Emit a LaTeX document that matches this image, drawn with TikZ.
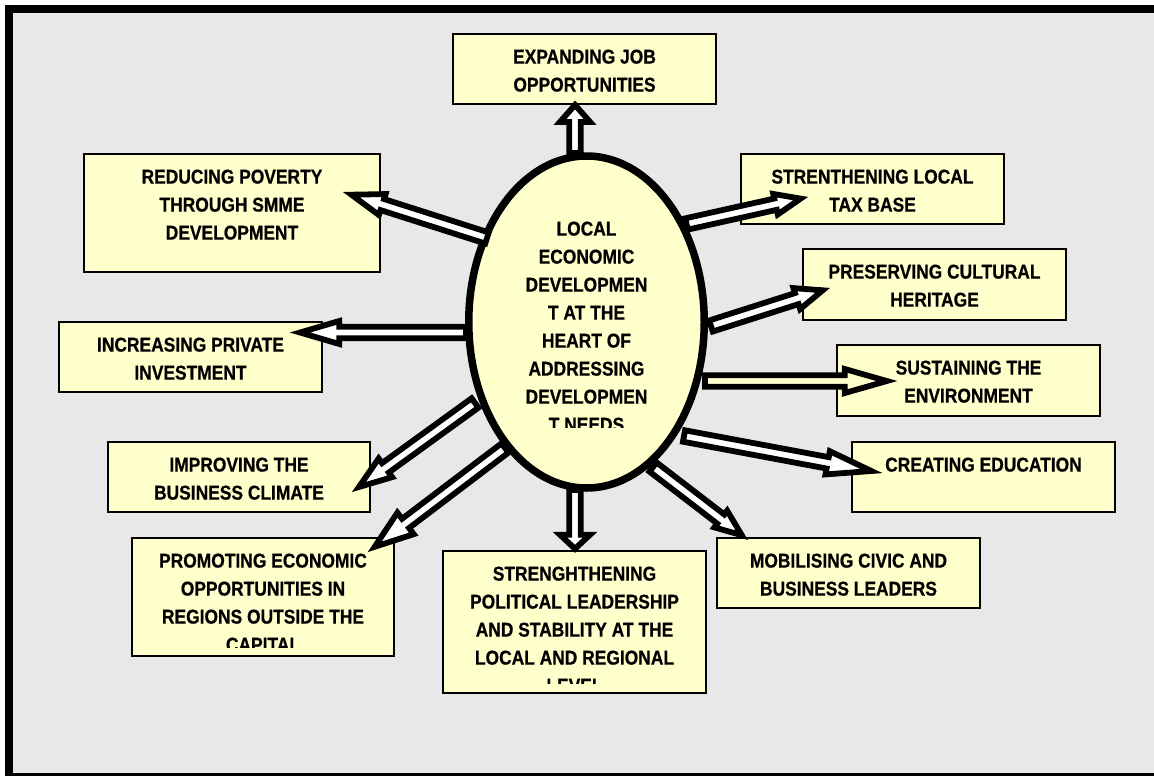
\documentclass[tikz,border=0pt]{standalone}
\usepackage{fontspec}
\setmainfont{Liberation Sans}[FakeStretch=0.87, FakeBold=0.6]
\usetikzlibrary{calc,shapes.geometric}
\definecolor{bggray}{HTML}{E8E8E8}
\definecolor{boxyellow}{HTML}{FFFFCC}
\tikzset{
  box/.style={draw=black, line width=2.2pt, fill=boxyellow, anchor=north west, outer sep=0pt, inner sep=0pt,
              minimum width=262.8pt, minimum height=69.8pt},
  lbl/.style={font=\fontsize{20pt}{28pt}\selectfont\bfseries, align=center, inner sep=0pt, anchor=north},
  barrow/.style={draw=black, line width=5.8pt, line join=miter, miter limit=10, fill=white},
}
% #1 options, #2 tail, #3 tip, #4 shaft half width, #5 head half width, #6 head length
\newcommand\blockarrow[6][]{%
  \coordinate (hb) at ($(#3)!#6!(#2)$);
  \draw[barrow,#1] ($(#2)!#4!90:(#3)$) -- ($(hb)!#4!90:(#3)$) -- ($(hb)!#5!90:(#3)$) -- (#3)
     -- ($(hb)!#5!-90:(#3)$) -- ($(hb)!#4!-90:(#3)$) -- ($(#2)!#4!-90:(#3)$) -- cycle;
}
\begin{document}
\begin{tikzpicture}[x=1pt,y=-1pt]
\useasboundingbox (0,0) rectangle (1154,776);
% background and frame
\fill[white] (0,0) rectangle (1154,776);
\fill[bggray] (9,9) rectangle (1170,790);
\draw[line width=8pt] (1170,9) -- (9,9) -- (9,777.3) -- (1170,777.3);

% central ellipse
\node[ellipse, draw=black, line width=7.5pt, fill=boxyellow, minimum width=235.5pt, minimum height=332pt, inner sep=0pt] (E) at (586.5,322) {};
\begin{scope}
  \clip (450,200) rectangle (720,427);
  \node[lbl] (Et) at (586.5,221.4) {LOCAL\\ECONOMIC\\DEVELOPMEN\\T AT THE\\HEART OF\\ADDRESSING\\DEVELOPMEN\\T NEEDS};
\end{scope}

% boxes
\node[box] (b1) at (453.1,34.1) {};
\node[box, minimum width=295.8pt, minimum height=117.8pt] (b2) at (84.1,154.1) {};
\node[box] (b3) at (741.1,154.1) {};
\node[box, minimum height=70.8pt] (b4) at (803.1,249.1) {};
\node[box] (b5) at (59.1,322.1) {};
\node[box, minimum height=70.8pt] (b6) at (837.1,345.1) {};
\node[box, minimum width=261.8pt] (b7) at (108.1,442.1) {};
\node[box] (b8) at (852.1,442.1) {};
\node[box, minimum width=261.8pt, minimum height=117.8pt] (b9) at (132.1,538.1) {};
\node[box, minimum height=141.8pt] (b10) at (443.1,551.1) {};
\node[box] (b11) at (717.1,538.1) {};

% box texts
\node[lbl] (t1) at (584.5,49.4) {EXPANDING JOB\\OPPORTUNITIES};
\node[lbl] (t2) at (232,169.4) {REDUCING POVERTY\\THROUGH SMME\\DEVELOPMENT};
\node[lbl] (t3) at (872.5,169.4) {STRENTHENING LOCAL\\TAX BASE};
\node[lbl] (t4) at (934.5,264.4) {PRESERVING CULTURAL\\HERITAGE};
\node[lbl] (t5) at (190.5,337.4) {INCREASING PRIVATE\\INVESTMENT};
\node[lbl] (t6) at (968.5,360.4) {SUSTAINING THE\\ENVIRONMENT};
\node[lbl] (t7) at (239,457.4) {IMPROVING THE\\BUSINESS CLIMATE};
\node[lbl] (t8) at (983.5,457.4) {CREATING EDUCATION};
\begin{scope}
  \clip (132,538) rectangle (394,647);
  \node[lbl] (t9) at (263,553.4) {PROMOTING ECONOMIC\\OPPORTUNITIES IN\\REGIONS OUTSIDE THE\\CAPITAL};
\end{scope}
\begin{scope}
  \clip (443,551) rectangle (706,683);
  \node[lbl] (t10) at (574.5,566.4) {STRENGHTHENING\\POLITICAL LEADERSHIP\\AND STABILITY AT THE\\LOCAL AND REGIONAL\\LEVEL};
\end{scope}
\node[lbl] (t11) at (848.5,553.4) {MOBILISING CIVIC AND\\BUSINESS LEADERS};

% arrow end points
\coordinate (a1s) at (575,153);   \coordinate (a1e) at (575,104.9);
\coordinate (a2s) at (487,238);   \coordinate (a2e) at (351.4,194.7);
\coordinate (a3s) at (466,332.5); \coordinate (a3e) at (300,332.5);
\coordinate (a4s) at (475,403);   \coordinate (a4e) at (358.9,487);
\coordinate (a5s) at (505,448);   \coordinate (a5e) at (374.7,546.8);
\coordinate (a6s) at (575,490);   \coordinate (a6e) at (575,548.8);
\coordinate (a7s) at (653,467);   \coordinate (a7e) at (741.8,535.2);
\coordinate (a8s) at (684,436);   \coordinate (a8e) at (871.4,471);
\coordinate (a9s) at (705,381);   \coordinate (a9e) at (886.8,381);
\coordinate (a10s) at (711,326);  \coordinate (a10e) at (822.7,290.3);
\coordinate (a11s) at (686.5,224);\coordinate (a11e) at (800.6,198.6);

% block arrows
\blockarrow{a1s}{a1e}{5.8pt}{15pt}{17pt}
\blockarrow{a2s}{a2e}{5.8pt}{11pt}{32.4pt}
\blockarrow{a3s}{a3e}{5.8pt}{11.5pt}{39.3pt}
\blockarrow{a4s}{a4e}{5.8pt}{11.5pt}{32.7pt}
\blockarrow{a5s}{a5e}{5.8pt}{13.5pt}{38.7pt}
\blockarrow{a6s}{a6e}{5.8pt}{15pt}{14pt}
\blockarrow{a7s}{a7e}{5.8pt}{10.5pt}{26.5pt}
\blockarrow{a8s}{a8e}{5.8pt}{11.8pt}{44.5pt}
\blockarrow[fill=boxyellow]{a9s}{a9e}{5.8pt}{12pt}{42pt}
\blockarrow{a10s}{a10e}{5.8pt}{11pt}{27.2pt}
\blockarrow{a11s}{a11e}{5.8pt}{10.5pt}{25.7pt}
\end{tikzpicture}
\end{document}
